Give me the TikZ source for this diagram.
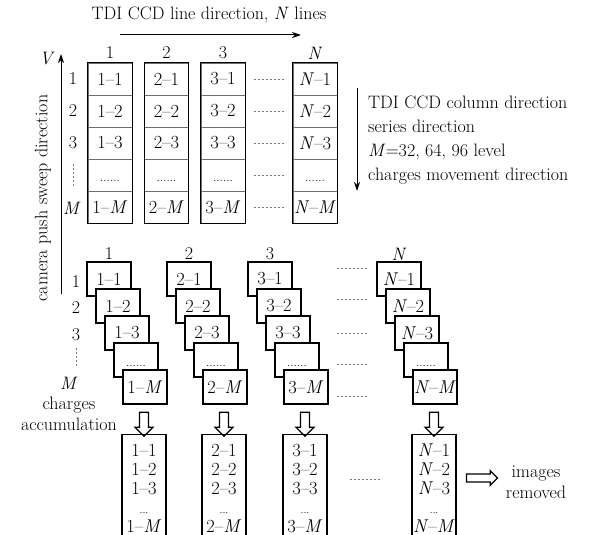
\documentclass[tikz,border=0pt]{standalone}
\usepackage{fontspec}
\usepackage{tikz}
\usetikzlibrary{arrows.meta, positioning, calc, shapes.arrows}
\definecolor{ccdgrid}{RGB}{110,110,110}
\definecolor{ccdgap}{RGB}{120,120,120}
\newcommand{\celldots}{\vphantom{1}{\fontsize{12}{12}\selectfont......}}

\begin{document}
\begin{tikzpicture}[x=1pt, y=-1pt,
  every node/.style={font=\fontsize{18}{21}\selectfont, inner sep=0pt},
  cell/.style={draw=ccdgrid, line width=0.5pt, minimum width=44pt, minimum height=32pt,
    font=\fontsize{18.5}{21}\selectfont},
  stack/.style={draw, fill=white, line width=1.3pt, minimum width=44pt, minimum height=34pt,
    font=\fontsize{18.5}{21}\selectfont},
  sumbox/.style={draw, line width=1.3pt, minimum width=44pt, align=center, anchor=north,
    inner xsep=1pt, inner ysep=9.5pt, font=\fontsize{18.5}{19}\selectfont},
  gap/.style={ccdgap, line width=0.6pt, dash pattern=on 2pt off 2pt},
  dirarrow/.style={line width=1pt, -{Stealth[length=9pt, width=6pt]}},
  blockarr/.style={draw, fill=white, line width=1.3pt, single arrow, inner sep=0pt,
    single arrow head extend=4.6pt, minimum width=17pt, minimum height=24pt}
]
% page
\fill[white] (0,0) rectangle (614,535);
\useasboundingbox (0,0) rectangle (614,535);

% ---- line direction ----
\node (linedir) at (209,15) {TDI CCD line direction, \textit{N} lines};
\coordinate (ls) at (120,35);
\coordinate (le) at (301,35);
\draw[dirarrow] (ls) -- (le);

% ---- push sweep direction ----
\coordinate (vs) at (61,294);
\coordinate (ve) at (61,54);
\draw[dirarrow] (vs) -- (ve);
\node (vlab) at (47,59) {\textit{V}};
\node[rotate=90] (sweep) at (43,198) {camera push sweep direction};

% ---- top CCD array ----
\foreach \c/\x/\t in {1/110/1, 2/166.5/2, 3/223/3, N/315/\textit{N}}{
  \foreach \r/\s in {1/{\t--1}, 2/{\t--2}, 3/{\t--3}, 4/{\celldots}, 5/{\t--\textit{M}}}
    \node[cell] (t\c-\r) at (\x,{47+32*\r}) {\s};
  \draw[line width=1.4pt] (t\c-1.north west) rectangle (t\c-5.south east);
  \node (tl\c) at (\x,53) {\t};
}
\foreach \r in {1,...,5}
  \draw[gap, shorten <=9pt, shorten >=9pt] (t3-\r.east) -- (tN-\r.west);

% row numbers
\foreach \r/\s in {1/1, 2/2, 3/3}
  \node (tr\r) at (73,{47+32*\r}) {\s};
\node (trM) at (72,208) {\textit{M}};
\draw[gap] (73,164) -- (73,186);

% column direction
\coordinate (cs) at (357,88);
\coordinate (ce) at (357,191);
\draw[dirarrow] (cs) -- (ce);
\node[anchor=north west, align=left, font=\fontsize{18}{24}\selectfont] (coldir) at (368,96)
  {TDI CCD column direction\\series direction\\\textit{M}=32, 64, 96 level\\charges movement direction};

% ---- staggered accumulation ----
\foreach \c/\x/\t in {1/87/1, 2/167/2, 3/248/3, N/377/\textit{N}}{
  \node (sl\c) at ({\x+22},254) {\t};
  \foreach \r/\s in {1/{\t--1}, 2/{\t--2}, 3/{\t--3}, 4/{\celldots}, 5/{\t--\textit{M}}}
    \node[stack] (s\c-\r) at ({\x+22+9*(\r-1)},{279+27*(\r-1)}) {\s};
  \node[blockarr, rotate=-90] (a\c) at ({\x+57},422) {\rule{0pt}{7.7pt}};
  \node[sumbox] (b\c) at ({\x+57},434)
    {\t--1\\\t--2\\\t--3\\{\fontsize{11}{11}\selectfont...}\\\t--\textit{M}};
}
\foreach \y in {268, 299, 333, 364, 396}
  \draw[gap] (337,\y) -- (368,\y);

% row numbers
\foreach \r/\y in {1/282, 2/308, 3/335}
  \node (sr\r) at (76,\y) {\r};
\draw[gap] (76,348) -- (76,368);
\node (srM) at (69,383) {\textit{M}};
\node[align=center, font=\fontsize{18}{21}\selectfont] (accum) at (69,414)
  {charges\\accumulation};

% ---- output ----
\draw[gap] (350,479) -- (381,479);
\node[blockarr, single arrow head extend=3.2pt, minimum width=13pt, minimum height=31pt]
  (aout) at (480,478) {\rule{0pt}{6.7pt}};
\node[align=center, font=\fontsize{18}{21}\selectfont] (imgout) at (536,482)
  {images\\removed};
\end{tikzpicture}
\end{document}
